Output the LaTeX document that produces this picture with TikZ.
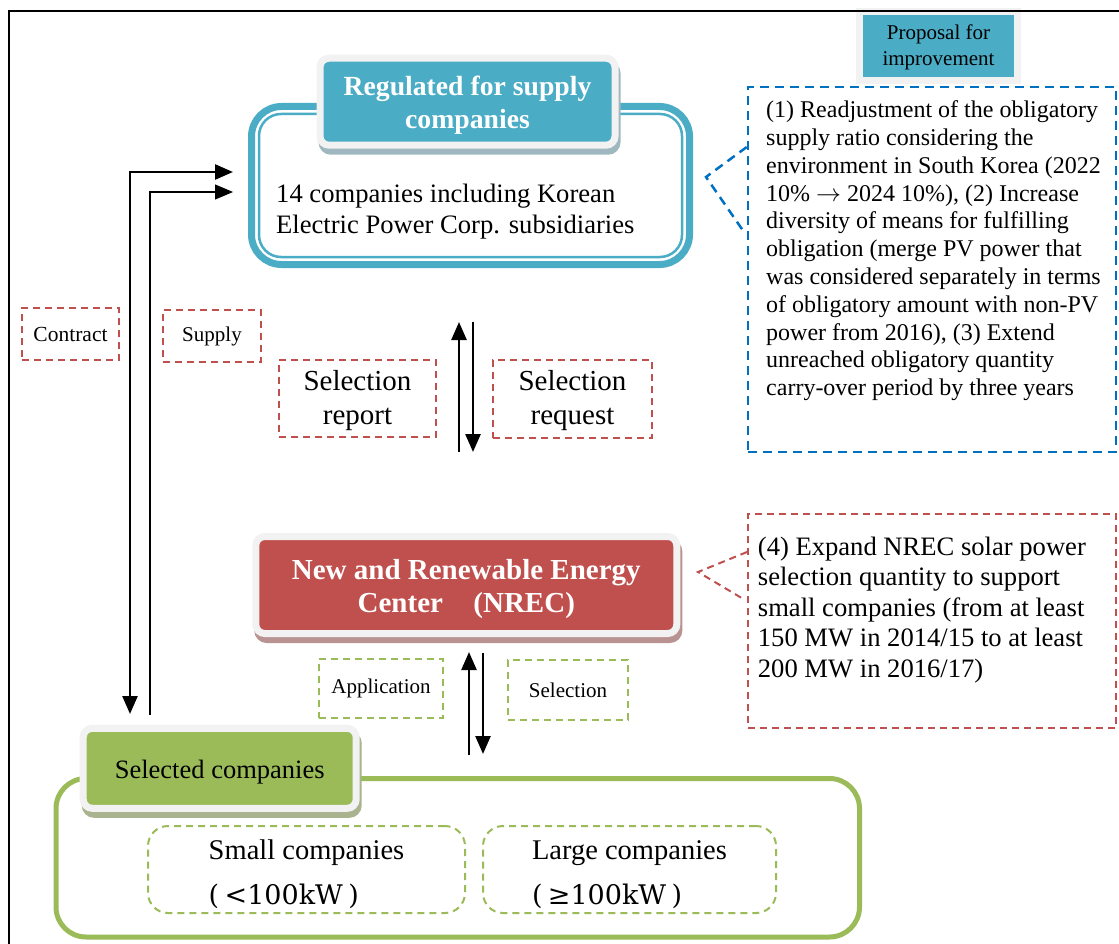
\documentclass[tikz,border=0pt]{standalone}
\usepackage{fontspec}
\setmainfont{Liberation Serif}
\newfontfamily\widefont{DejaVu Serif}
\usepackage{tikz}
\usetikzlibrary{arrows.meta,shadows}
\definecolor{tealhead}{HTML}{4BACC6}
\definecolor{redhead}{HTML}{C0504D}
\definecolor{greenhead}{HTML}{9BBB59}
\definecolor{bluenote}{HTML}{0070C0}
\definecolor{tabframe}{HTML}{F2F2F2}
\definecolor{tealshade}{HTML}{9FB8BF}
\definecolor{redshade}{HTML}{B99392}
\definecolor{greenshade}{HTML}{A9B38F}
\newcommand{\fsz}[2]{\fontsize{#1}{#2}\selectfont}
\newcommand{\lift}[1]{\rule{0pt}{#1pt}}

\begin{document}
\begin{tikzpicture}[
  x=1pt, y=-1pt,
  >={Triangle[length=18pt, width=15pt]},
  tab/.style={rounded corners=9, draw=tabframe, line width=7, align=center, inner sep=0pt,
    drop shadow={shadow xshift=2pt, shadow yshift=-6pt, opacity=1, fill=#1, draw=#1, line width=7}},
  panel/.style={line width=#1, inner sep=0pt, rounded corners=30},
  rednote/.style={draw=redhead, line width=2, dash pattern=on 7pt off 5pt, align=center, inner sep=0pt},
  greennote/.style={draw=greenhead, line width=2, dash pattern=on 7pt off 5pt, align=center, inner sep=0pt},
  bluenote/.style={draw=bluenote, line width=2.5, dash pattern=on 9pt off 6pt},
  notetext/.style={anchor=north west, align=left, inner sep=0pt},
  arrow/.style={->, line width=2.5},
  thinarrow/.style={->, line width=1.2}
]
\useasboundingbox (0,0) rectangle (1119,944);

% supply obligation side
\node[panel=7, draw=tealhead, minimum width=438, minimum height=158] (reg) at (470.5,185.5) {};
\node[draw=tealhead, line width=2.5, inner sep=0pt, rounded corners=22,
  minimum width=423, minimum height=143] (reginner) at (reg.center) {};
\node[notetext, font=\fsz{26.6}{31.3}] (regtxt) at (276,183.5)
  {14 companies including Korean\\Electric Power Corp. subsidiaries};
\node[tab=tealshade, fill=tealhead, text=white, font=\bfseries\fsz{27.7}{33},
  minimum width=295, minimum height=87] (reghead) at (467.5,101.7)
  {\lift{26}Regulated for supply\\companies};

% proposal (1)-(3)
\node[draw=tabframe, line width=7, fill=tealhead, inner sep=0pt, align=center,
  minimum width=158, minimum height=69, font=\fsz{21}{26}] (prophead) at (938.5,46)
  {\lift{18}Proposal for\\improvement};
\node[bluenote, minimum width=368, minimum height=365] (propbox) at (932,269.5) {};
\node[notetext, font=\fsz{24}{27.8}] (proptxt) at (766,100.5)
  {(1) Readjustment of the obligatory\\
   supply ratio considering the\\
   environment in South Korea (2022\\
   10\% $\rightarrow$ 2024 10\%), (2) Increase\\
   diversity of means for fulfilling\\
   obligation (merge PV power that\\
   was considered separately in terms\\
   of obligatory amount with non-PV\\
   power from 2016), (3) Extend\\
   unreached obligatory quantity\\
   carry-over period by three years};
\coordinate (proptip) at (706,177);
\draw[bluenote] (propbox.west |- 0,147) -- (proptip) -- (744,232);

% flows between the suppliers and the companies
\node[rednote, minimum width=97, minimum height=52, font=\fsz{21.5}{25}] (contract) at (70.5,334) {Contract};
\node[rednote, minimum width=98, minimum height=52, font=\fsz{21}{25}] (supply) at (212,336) {Supply};
\node[rednote, minimum width=157, minimum height=77, font=\fsz{29}{34}] (report) at (357.5,398.5) {\lift{24}Selection\\report};
\node[rednote, minimum width=159, minimum height=78, font=\fsz{29}{34}] (request) at (572.5,399) {\lift{24}Selection\\request};

\coordinate (ctrfoot) at (130,714);
\coordinate (ctrtip) at (233,172);
\coordinate (supfoot) at (150,715);
\coordinate (suptip) at (233,192);
\draw[arrow, <->] (ctrfoot) |- (ctrtip);
\draw[thinarrow] (supfoot) |- (suptip);

\coordinate (rptfoot) at (459,452);
\coordinate (rpttip) at (459,322);
\coordinate (reqtop) at (473,322);
\coordinate (reqtip) at (473,452);
\draw[arrow] (rptfoot) -- (rpttip);
\draw[arrow] (reqtop) -- (reqtip);

% NREC and proposal (4)
\node[tab=redshade, fill=redhead, text=white, font=\bfseries\fsz{29}{33},
  minimum width=421, minimum height=97] (nrec) at (466.3,585)
  {\lift{28}New and Renewable Energy\\Center\hspace*{1.05em}(NREC)};
\node[draw=redhead, line width=2, dash pattern=on 7pt off 5pt, minimum width=368, minimum height=214] (nrecbox) at (932,621) {};
\node[notetext, font=\fsz{26.6}{30.5}] (nrectxt) at (757.7,536.7)
  {(4) Expand NREC solar power\\
   selection quantity to support\\
   small companies (from at least\\
   150 MW in 2014/15 to at least\\
   200 MW in 2016/17)};
\coordinate (nrectip) at (698,572);
\draw[draw=redhead, line width=2, dash pattern=on 7pt off 5pt] (nrecbox.west |- 0,552) -- (nrectip) -- (745,600);

\node[greennote, minimum width=124, minimum height=59, font=\fsz{21}{25}] (apply) at (381,688.5) {Application};
\node[greennote, minimum width=120, minimum height=60, font=\fsz{21}{25}] (select) at (568,690) {Selection};

\coordinate (appfoot) at (469,755);
\coordinate (apptip) at (469,652);
\coordinate (seltop) at (483,653);
\coordinate (seltip) at (483,754);
\draw[arrow] (appfoot) -- (apptip);
\draw[arrow] (seltop) -- (seltip);

% selected companies
\node[panel=5, draw=greenhead, minimum width=803.5, minimum height=158.5] (selbox) at (457.75,857.75) {};
\node[tab=greenshade, fill=greenhead, font=\fsz{26.5}{30},
  minimum width=273, minimum height=80] (selhead) at (219.7,768.3) {\lift{26}Selected companies};
\node[greennote, rounded corners=20, minimum width=317, minimum height=87, align=left, font=\fsz{28.5}{45}] (small) at (306.5,869.5)
  {\lift{29}Small companies\\{\widefont\fontsize{27}{45}\selectfont(\hspace{0.2em}<100kW\hspace{0.2em})}};
\node[greennote, rounded corners=20, minimum width=293, minimum height=87, align=left, font=\fsz{28.5}{45}] (large) at (629.5,869.5)
  {\lift{29}Large companies\\{\widefont\fontsize{27}{45}\selectfont(\hspace{0.2em}≥100kW\hspace{0.2em})}};

% page frame
\draw[line width=2] (9,944) -- (9,11) -- (1119,11);
\end{tikzpicture}
\end{document}
